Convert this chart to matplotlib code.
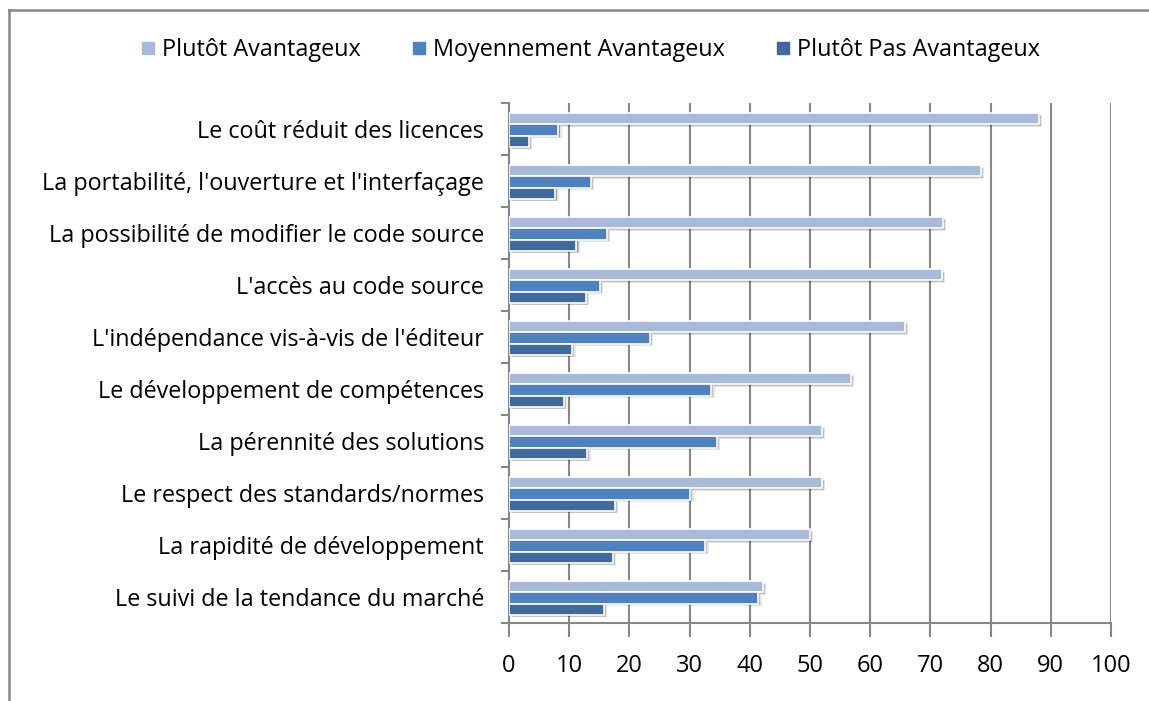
import matplotlib.pyplot as plt
from matplotlib.lines import Line2D
import numpy as np

plt.rcParams['font.family'] = ['Open Sans', 'DejaVu Sans']

categories = [
    "Le coût réduit des licences",
    "La portabilité, l'ouverture et l'interfaçage",
    "La possibilité de modifier le code source",
    "L'accès au code source",
    "L'indépendance vis-à-vis de l'éditeur",
    "Le développement de compétences",
    "La pérennité des solutions",
    "Le respect des standards/normes",
    "La rapidité de développement",
    "Le suivi de la tendance du marché",
]
plutot_avantageux = [88.0, 78.4, 72.1, 71.9, 65.7, 56.8, 52.0, 52.0, 50.0, 42.2]
moyennement_avantageux = [8.2, 13.6, 16.2, 15.1, 23.4, 33.6, 34.5, 30.1, 32.6, 41.4]
plutot_pas_avantageux = [3.3, 7.7, 11.2, 12.8, 10.5, 9.1, 13.0, 17.6, 17.3, 15.8]

series = [
    ("Plutôt Avantageux", plutot_avantageux, "#A9B9D8"),
    ("Moyennement Avantageux", moyennement_avantageux, "#4F81BD"),
    ("Plutôt Pas Avantageux", plutot_pas_avantageux, "#3F6A9C"),
]

fig = plt.figure(figsize=(11.49, 7.01), dpi=100)
ax = fig.add_axes([509 / 1149, 1 - 623 / 701, 602 / 1149, 520 / 701])

y = np.arange(len(categories))
h = 0.215
offsets = [-0.215, 0.0, 0.215]

for (name, vals, col), off in zip(series, offsets):
    pos = y + off + 0.02
    # soft drop shadow
    for dx, dy, a in [(0.55, 0.05, 0.10), (0.35, 0.035, 0.15), (0.2, 0.02, 0.2)]:
        ax.barh(pos + dy, vals, height=h, left=dx, color="#000000", alpha=a,
                linewidth=0, zorder=2)
    ax.barh(pos, vals, height=h, color=col, edgecolor="white", linewidth=1.2,
            zorder=3, label=name)

ax.set_xlim(0, 100)
ax.set_ylim(len(categories) - 0.5, -0.5)
ax.set_xticks(np.arange(0, 101, 10))
ax.set_yticks(y)
ax.set_yticklabels(categories)
ax.set_yticks(np.arange(-0.5, len(categories), 1), minor=True)
ax.tick_params(axis='y', which='major', length=0, pad=18, labelsize=16.8)
ax.tick_params(axis='y', which='minor', length=6, width=1.5, color="#878787")
ax.tick_params(axis='x', length=10, width=1.5, color="#878787", pad=12, labelsize=17)
ax.grid(axis='x', color="#878787", linewidth=1.5, zorder=1)
ax.set_axisbelow(True)
for s in ['top', 'right']:
    ax.spines[s].set_visible(False)
for s in ['left', 'bottom']:
    ax.spines[s].set_color("#878787")
    ax.spines[s].set_linewidth(1.5)

handles = [Line2D([], [], marker='s', linestyle='none', markersize=9,
                  markerfacecolor=c, markeredgecolor=c) for _, _, c in series]
fig.legend(handles, [n for n, _, _ in series], loc='center',
           bbox_to_anchor=(588 / 1149, 1 - 50 / 701), ncol=3, frameon=False,
           fontsize=16.8, handletextpad=0.1, columnspacing=2.0, handlelength=1.0)

# outer chart border (top and left only visible)
fig.add_artist(Line2D([8.5 / 1149, 8.5 / 1149], [0, 1 - 10 / 701], color="#878787",
                      linewidth=1.8, transform=fig.transFigure))
fig.add_artist(Line2D([8.5 / 1149, 1], [1 - 10 / 701, 1 - 10 / 701], color="#878787",
                      linewidth=1.8, transform=fig.transFigure))

fig.savefig("out.png", dpi=100)
